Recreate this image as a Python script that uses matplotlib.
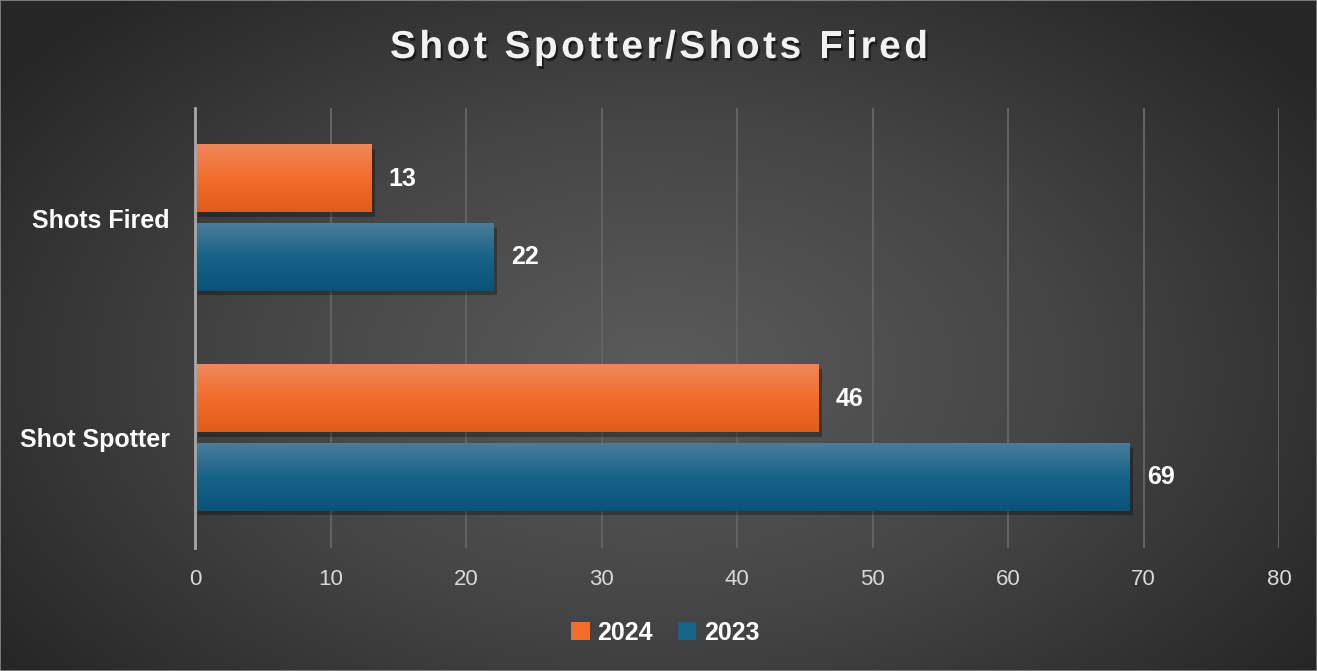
#!/usr/bin/env python3
"""Shot Spotter / Shots Fired 年度对比条形图。"""

import numpy as np
import matplotlib
matplotlib.use("Agg")
import matplotlib.pyplot as plt
import matplotlib.patheffects as pe
from matplotlib.colors import LinearSegmentedColormap
from matplotlib.patches import Patch, Rectangle

plt.rcParams["font.family"] = ["Liberation Sans", "DejaVu Sans"]

# 数据
categories = ["Shot Spotter", "Shots Fired"]
series_names = ["2024", "2023"]
values_2024 = [46, 13]
values_2023 = [69, 22]
x_ticks = [0, 10, 20, 30, 40, 50, 60, 70, 80]
title = "Shot Spotter/Shots Fired"

ORANGE = ["#ef875a", "#f26d2b", "#df5c1a"]
BLUE = ["#4b7c9a", "#186389", "#0a5378"]

W, H = 1317, 671
fig = plt.figure(figsize=(W / 100, H / 100), dpi=100)

# 背景径向渐变
bg = fig.add_axes([0, 0, 1, 1], zorder=-10)
yy, xx = np.mgrid[0:1:300j, 0:1:600j]
r = np.sqrt(((xx - 0.5) / 0.62) ** 2 + ((yy - 0.45) / 0.75) ** 2)
bg_cmap = LinearSegmentedColormap.from_list("bg", ["#5b5b5b", "#454545", "#262626"])
bg.imshow(np.clip(r, 0, 1), cmap=bg_cmap, vmin=0, vmax=1, aspect="auto",
          extent=[0, 1, 0, 1], origin="lower")
bg.add_patch(Rectangle((0, 0), 1, 1, transform=bg.transAxes, fill=False,
                       edgecolor="#8a8a8a", linewidth=1.2))
bg.set_axis_off()

ax = fig.add_axes([195 / W, 1 - 548 / H, (1279 - 195) / W, 440 / H])
ax.patch.set_alpha(0)

shadow = [pe.SimplePatchShadow(offset=(2.5, -3), shadow_rgbFace="black", alpha=0.3), pe.Normal()]
text_shadow = [pe.SimplePatchShadow(offset=(1.5, -2), shadow_rgbFace="black", alpha=0.5), pe.Normal()]

h = 0.305
off = 0.178
y = np.arange(len(categories))


def grad_bar(yc, val, cols):
    ax.barh(yc, val, height=h, color=cols[1], zorder=3, path_effects=shadow)
    cmap = LinearSegmentedColormap.from_list("g", cols)
    g = np.linspace(0, 1, 100).reshape(-1, 1)
    ax.imshow(g, cmap=cmap, aspect="auto", origin="upper", zorder=4,
              extent=[0, val, yc - h / 2, yc + h / 2], interpolation="bilinear")
    ax.text(val + 1.3, yc, f"{val}", va="center", ha="left", color="white",
            fontsize=18, fontweight="bold", zorder=5)


for i in range(len(categories)):
    grad_bar(y[i] + off, values_2024[i], ORANGE)
    grad_bar(y[i] - off, values_2023[i], BLUE)

ax.set_xlim(0, 80)
ax.set_ylim(-0.5, 1.5)
ax.set_xticks(x_ticks)
ax.set_xticklabels([str(t) for t in x_ticks], color="#d9d9d9", fontsize=16)
ax.set_yticks(y)
ax.set_yticklabels(categories, color="white", fontsize=18, fontweight="bold")
ax.tick_params(axis="both", length=0)
ax.tick_params(axis="x", pad=15)
ax.tick_params(axis="y", pad=18)
ax.grid(axis="x", color="#626262", linewidth=1.5, zorder=0)
for s in ["top", "right", "bottom"]:
    ax.spines[s].set_visible(False)
ax.spines["left"].set_color("#a8a8a8")
ax.spines["left"].set_linewidth(2)
ax.spines["left"].set_zorder(6)

# 标题：逐字放置以加字间距
renderer = fig.canvas.get_renderer()
title_kw = dict(color="#f2f2f2", fontsize=28, fontweight="bold", va="center", ha="left",
                path_effects=text_shadow)
target_left, target_right = 390, 928
chars = []
widths = []
for ch in title:
    t = fig.text(0, 0, ch if ch != " " else "\u00a0", **title_kw)
    w = t.get_window_extent(renderer).width if ch != " " else 0
    if ch == " ":
        probe = fig.text(0, 0, "a a", **title_kw)
        probe2 = fig.text(0, 0, "aa", **title_kw)
        w = probe.get_window_extent(renderer).width - probe2.get_window_extent(renderer).width
        probe.remove()
        probe2.remove()
    chars.append(t)
    widths.append(w)
spacing = (target_right - target_left - sum(widths)) / (len(title) - 1)
xpos = target_left
for t, w in zip(chars, widths):
    t.set_position((xpos / W, 1 - 48 / H))
    xpos += w + spacing

handles = [Patch(facecolor=ORANGE[1], edgecolor="none"), Patch(facecolor=BLUE[1], edgecolor="none")]
leg = fig.legend(handles, series_names, loc="center", bbox_to_anchor=(665 / W, 1 - 633 / H),
                 ncol=2, frameon=False, handlelength=0.75, handleheight=0.75,
                 handletextpad=0.3, columnspacing=1.0,
                 prop={"size": 18, "weight": "bold"})
for t in leg.get_texts():
    t.set_color("white")

fig.savefig("out.png", dpi=100)
